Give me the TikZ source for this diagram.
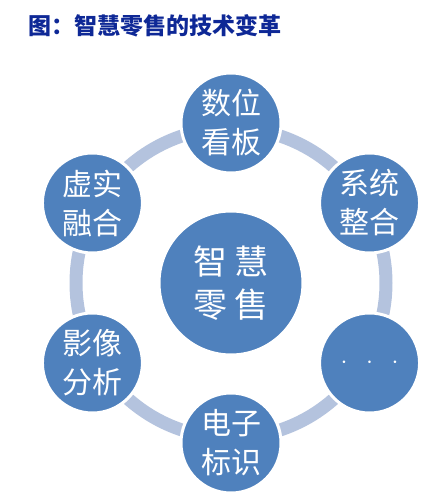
\documentclass[tikz,border=0pt]{standalone}
\usepackage{fontspec}
\setmainfont{Noto Sans CJK SC}
\usepackage{xcolor}
\usetikzlibrary{positioning, backgrounds}

\definecolor{ringblue}{RGB}{79,129,189}
\definecolor{linkgray}{RGB}{180,195,222}
\definecolor{titleblue}{RGB}{14,40,150}

\begin{document}
\begin{tikzpicture}[x=1pt, y=1pt,
    item/.style={circle, draw=white, line width=3pt, fill=ringblue, minimum size=100pt, inner sep=0pt, text=white, align=center, font=\fontsize{30}{39}\selectfont},
    hubnode/.style={item, minimum size=144pt, font=\fontsize{34}{43}\selectfont},
    link/.style={line width=13pt, linkgray},
    caption/.style={anchor=west, text=titleblue, font=\bfseries\fontsize{23}{23}\selectfont}
]
\useasboundingbox (0,0) rectangle (444,504);

% Title
\node[caption] (title) at (25,478) {图：智慧零售的技术变革};

% Hub
\node[hubnode] (hub) at (231,221) {智\hspace{7pt}慧\\零\hspace{7pt}售};

% Outer ring
\node[item] (board) at ([shift={(90:160)}]hub.center) {数位\\看板};
\node[item] (system) at ([shift={(30:160)}]hub.center) {系统\\整合};
\node[item] (more) at ([shift={(-30:160)}]hub.center) {$\cdot\hspace{13pt}\cdot\hspace{13pt}\cdot$};
\node[item] (label) at ([shift={(-90:160)}]hub.center) {电子\\标识};
\node[item] (image) at ([shift={(-150:160)}]hub.center) {影像\\分析};
\node[item] (merge) at ([shift={(150:160)}]hub.center) {虚实\\融合};

% Connections
\begin{scope}[on background layer]
\draw[link] ([shift={(90:155)}]hub.center) arc[start angle=90, end angle=30, radius=155];
\draw[link] ([shift={(30:155)}]hub.center) arc[start angle=30, end angle=-30, radius=155];
\draw[link] ([shift={(-30:155)}]hub.center) arc[start angle=-30, end angle=-90, radius=155];
\draw[link] ([shift={(-90:155)}]hub.center) arc[start angle=-90, end angle=-150, radius=155];
\draw[link] ([shift={(-150:155)}]hub.center) arc[start angle=-150, end angle=-210, radius=155];
\draw[link] ([shift={(150:155)}]hub.center) arc[start angle=150, end angle=90, radius=155];
\end{scope}

\end{tikzpicture}
\end{document}
